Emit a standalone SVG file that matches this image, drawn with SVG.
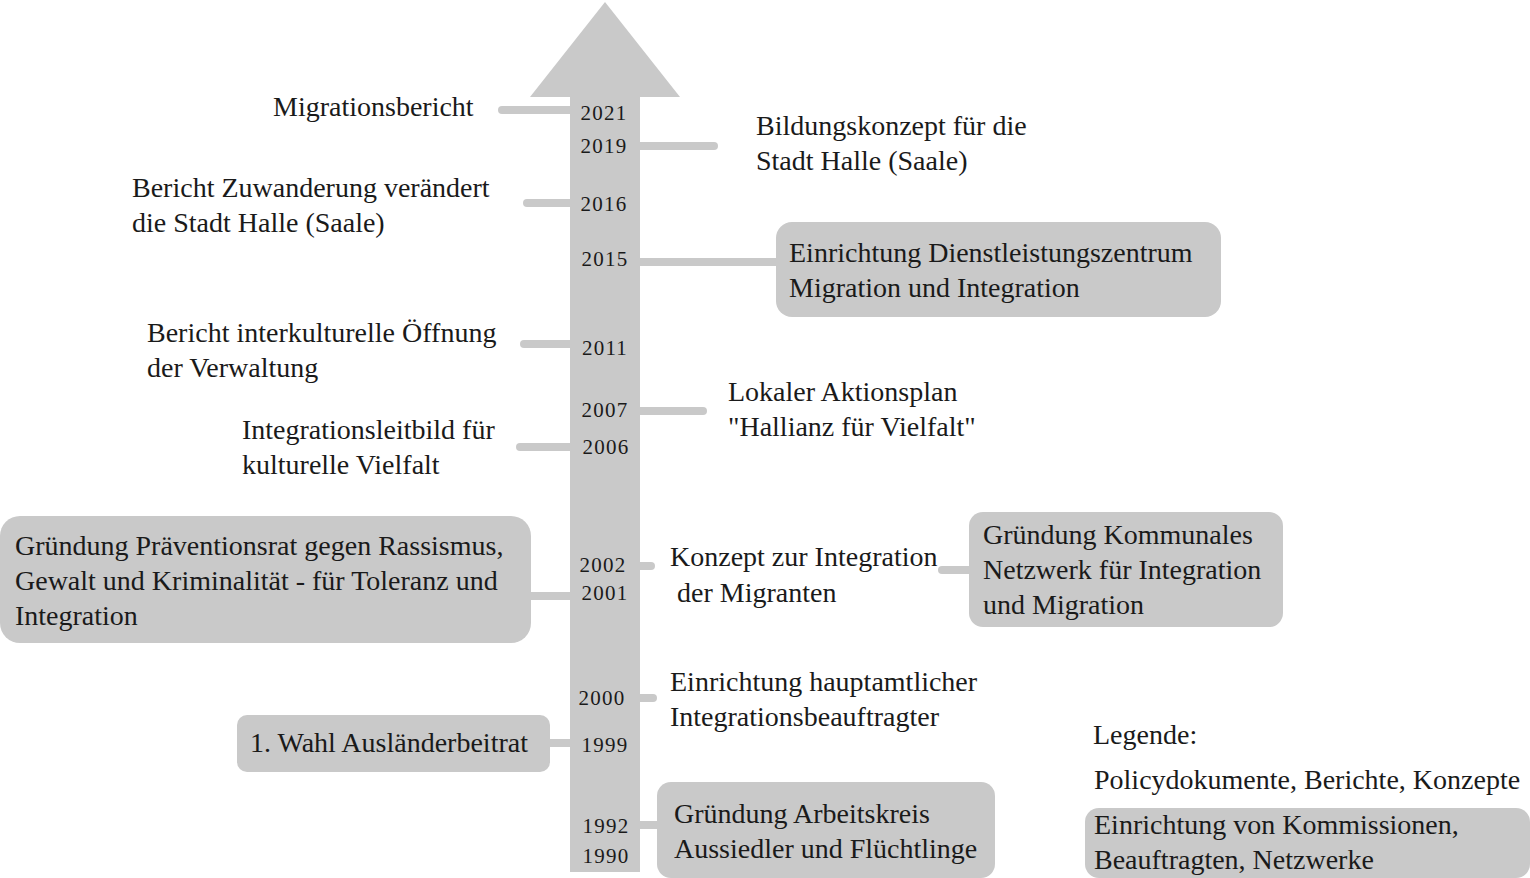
<svg xmlns="http://www.w3.org/2000/svg" width="1530" height="878" viewBox="0 0 1530 878">
<style>
.t{font-family:"Liberation Serif","Times New Roman",serif;font-size:28px;fill:#1a1a1a}
.y{font-family:"Liberation Serif","Times New Roman",serif;font-size:21px;fill:#1a1a1a;text-anchor:middle;letter-spacing:1.2px}
.box{fill:#c9c9c9}
.c{stroke:#c9c9c9;stroke-width:8;stroke-linecap:round;fill:none}
</style>
<rect width="1530" height="878" fill="#ffffff"/>
<g id="timeline-arrow">
<polygon points="605,2 680,97 640,97 640,872 570,872 570,97 530,97" fill="#c9c9c9"/>
</g>
<g id="connectors">
<line class="c" x1="502" y1="110" x2="570" y2="110"/>
<line class="c" x1="640" y1="146" x2="714" y2="146"/>
<line class="c" x1="527" y1="203" x2="570" y2="203"/>
<line class="c" x1="640" y1="262" x2="780" y2="262"/>
<line class="c" x1="524" y1="344" x2="570" y2="344"/>
<line class="c" x1="640" y1="411" x2="703" y2="411"/>
<line class="c" x1="520" y1="447" x2="570" y2="447"/>
<line class="c" x1="526" y1="596" x2="570" y2="596"/>
<line class="c" x1="640" y1="566" x2="651" y2="566"/>
<line class="c" x1="942" y1="570" x2="972" y2="570"/>
<line class="c" x1="640" y1="698" x2="653" y2="698"/>
<line class="c" x1="545" y1="743" x2="570" y2="743"/>
<line class="c" x1="640" y1="825" x2="660" y2="825"/>
</g>
<g id="years">
<text class="y" x="604" y="120">2021</text>
<text class="y" x="604" y="153">2019</text>
<text class="y" x="604" y="211">2016</text>
<text class="y" x="605" y="266">2015</text>
<text class="y" x="605" y="355">2011</text>
<text class="y" x="605" y="417">2007</text>
<text class="y" x="606" y="454">2006</text>
<text class="y" x="603" y="572">2002</text>
<text class="y" x="605" y="600">2001</text>
<text class="y" x="602" y="705">2000</text>
<text class="y" x="605" y="752">1999</text>
<text class="y" x="606" y="833">1992</text>
<text class="y" x="606" y="863">1990</text>
</g>
<g id="n-migrationsbericht">
<text class="t" x="273" y="116">Migrationsbericht</text>
</g>
<g id="n-bildungskonzept">
<text class="t" x="756" y="135">Bildungskonzept für die</text>
<text class="t" x="756" y="170">Stadt Halle (Saale)</text>
</g>
<g id="n-zuwanderung">
<text class="t" x="132" y="197">Bericht Zuwanderung verändert</text>
<text class="t" x="132" y="232">die Stadt Halle (Saale)</text>
</g>
<g id="n-dienstleistungszentrum">
<rect class="box" x="776" y="222" width="445" height="95" rx="16"/>
<text class="t" x="789" y="262">Einrichtung Dienstleistungszentrum</text>
<text class="t" x="789" y="297">Migration und Integration</text>
</g>
<g id="n-interkulturelle">
<text class="t" x="147" y="342">Bericht interkulturelle Öffnung</text>
<text class="t" x="147" y="377">der Verwaltung</text>
</g>
<g id="n-aktionsplan">
<text class="t" x="728" y="401">Lokaler Aktionsplan</text>
<text class="t" x="728" y="436">"Hallianz für Vielfalt"</text>
</g>
<g id="n-leitbild">
<text class="t" x="242" y="439">Integrationsleitbild für</text>
<text class="t" x="242" y="474">kulturelle Vielfalt</text>
</g>
<g id="n-praeventionsrat">
<rect class="box" x="0" y="516" width="531" height="127" rx="20"/>
<text class="t" x="15" y="555">Gründung Präventionsrat gegen Rassismus,</text>
<text class="t" x="15" y="590">Gewalt und Kriminalität - für Toleranz und</text>
<text class="t" x="15" y="625">Integration</text>
</g>
<g id="n-konzept">
<text class="t" x="670" y="566">Konzept zur Integration</text>
<text class="t" x="677" y="602">der Migranten</text>
</g>
<g id="n-kommunales">
<rect class="box" x="969" y="512" width="314" height="115" rx="14"/>
<text class="t" x="983" y="544">Gründung Kommunales</text>
<text class="t" x="983" y="579">Netzwerk für Integration</text>
<text class="t" x="983" y="614">und Migration</text>
</g>
<g id="n-hauptamtlicher">
<text class="t" x="670" y="691">Einrichtung hauptamtlicher</text>
<text class="t" x="670" y="726">Integrationsbeauftragter</text>
</g>
<g id="n-auslaenderbeirat">
<rect class="box" x="237" y="715" width="313" height="57" rx="10"/>
<text class="t" x="250" y="752">1. Wahl Ausländerbeitrat</text>
</g>
<g id="n-arbeitskreis">
<rect class="box" x="657" y="782" width="338" height="96" rx="14"/>
<text class="t" x="674" y="823">Gründung Arbeitskreis</text>
<text class="t" x="674" y="858">Aussiedler und Flüchtlinge</text>
</g>
<g id="legend">
<text class="t" x="1093" y="744">Legende:</text>
<text class="t" x="1094" y="789">Policydokumente, Berichte, Konzepte</text>
<rect class="box" x="1085" y="808" width="445" height="70" rx="14"/>
<text class="t" x="1094" y="834">Einrichtung von Kommissionen,</text>
<text class="t" x="1094" y="869">Beauftragten, Netzwerke</text>
</g>
</svg>
